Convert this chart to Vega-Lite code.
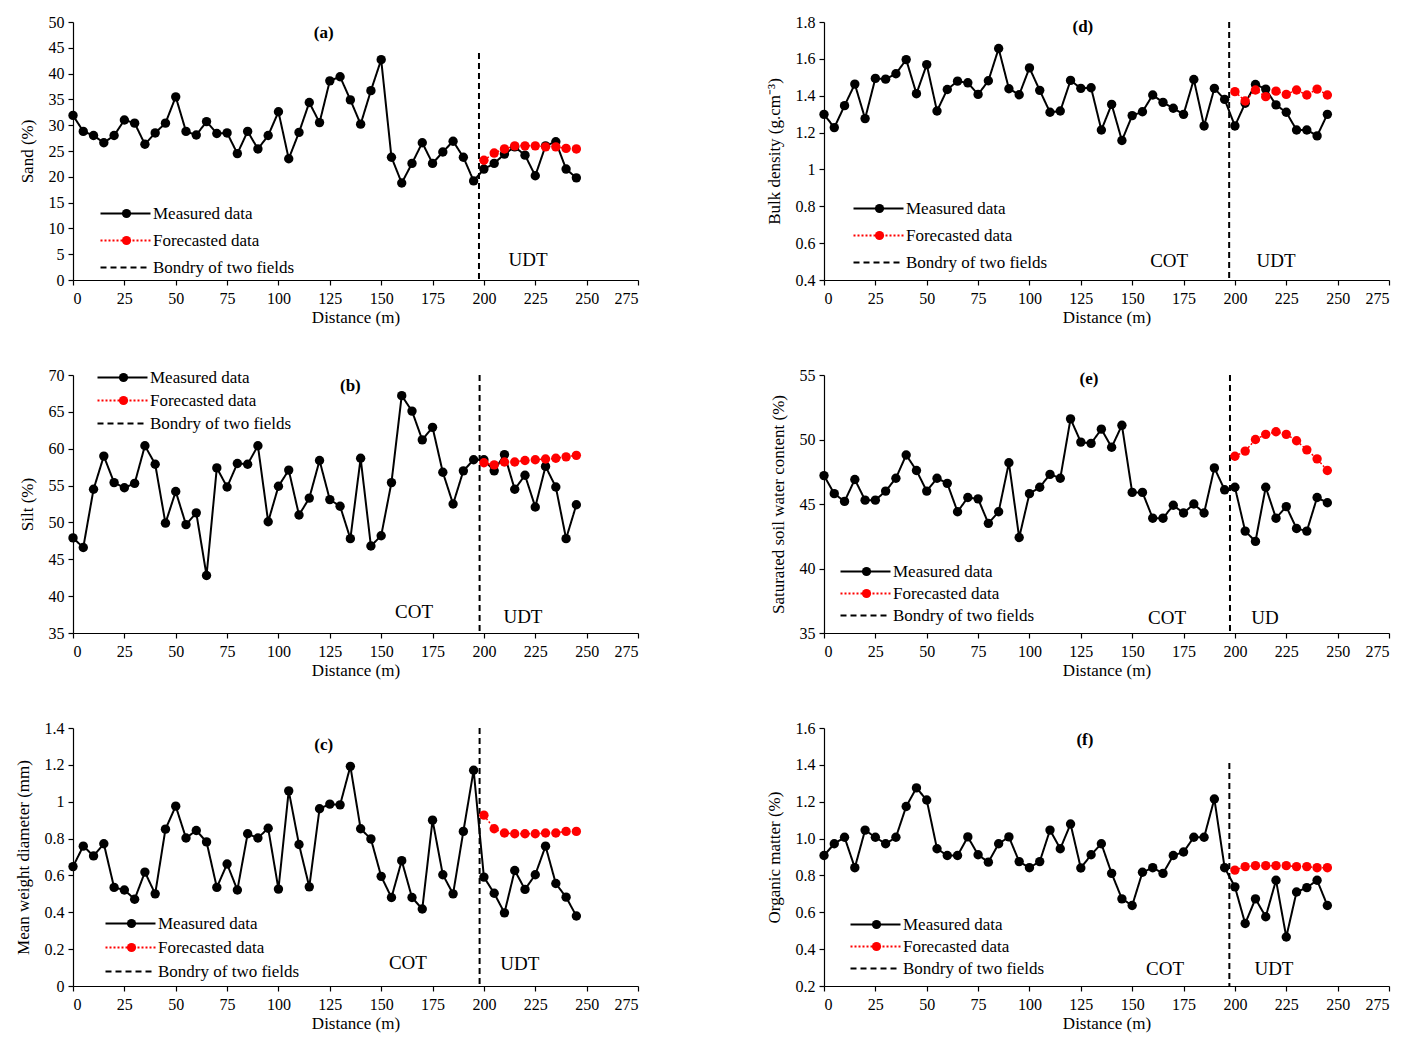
{
"$schema": "https://vega.github.io/schema/vega-lite/v6.json",
"padding": {"left": 14, "top": 14, "right": 5, "bottom": 2},
"config": {
  "font": "Liberation Serif",
  "view": {"stroke": null},
  "axis": {"grid": false, "domainColor": "#000", "tickColor": "#000", "labelColor": "#000", "titleColor": "#000", "labelFont": "Liberation Serif", "titleFont": "Liberation Serif", "labelFontSize": 16, "titleFontSize": 17, "titleFontWeight": "normal", "domainWidth": 1.2, "tickWidth": 1.2, "tickSize": 5, "labelPadding": 4, "labelOverlap": false},
  "axisX": {"titlePadding": 3, "labelPadding": 5},
  "axisY": {"titlePadding": 12},
  "legend": {"orient": "none", "title": null, "symbolType": "M-1,0H9", "symbolSize": 100, "symbolStrokeWidth": 2, "labelFont": "Liberation Serif", "labelFontSize": 17, "labelColor": "#000", "rowPadding": 6, "labelOffset": 39, "padding": 0},
  "text": {"font": "Liberation Serif", "fontSize": 19, "color": "#000"}
},
"datasets": {
  "soil": [
    {"series": "Measured data", "dist": 0, "sand": 31.9, "silt": 47.9, "mwd": 0.648, "bd": 1.299, "sswc": 47.2, "om": 0.908},
    {"series": "Measured data", "dist": 5, "sand": 28.8, "silt": 46.6, "mwd": 0.759, "bd": 1.227, "sswc": 45.8, "om": 0.972},
    {"series": "Measured data", "dist": 10, "sand": 28.0, "silt": 54.5, "mwd": 0.706, "bd": 1.346, "sswc": 45.2, "om": 1.007},
    {"series": "Measured data", "dist": 15, "sand": 26.6, "silt": 59.0, "mwd": 0.772, "bd": 1.463, "sswc": 46.9, "om": 0.842},
    {"series": "Measured data", "dist": 20, "sand": 28.0, "silt": 55.4, "mwd": 0.535, "bd": 1.276, "sswc": 45.3, "om": 1.046},
    {"series": "Measured data", "dist": 25, "sand": 31.0, "silt": 54.7, "mwd": 0.521, "bd": 1.494, "sswc": 45.3, "om": 1.007},
    {"series": "Measured data", "dist": 30, "sand": 30.4, "silt": 55.3, "mwd": 0.471, "bd": 1.490, "sswc": 46.0, "om": 0.972},
    {"series": "Measured data", "dist": 35, "sand": 26.3, "silt": 60.4, "mwd": 0.618, "bd": 1.519, "sswc": 47.0, "om": 1.007},
    {"series": "Measured data", "dist": 40, "sand": 28.5, "silt": 57.9, "mwd": 0.500, "bd": 1.596, "sswc": 48.8, "om": 1.174},
    {"series": "Measured data", "dist": 45, "sand": 30.4, "silt": 49.9, "mwd": 0.851, "bd": 1.411, "sswc": 47.6, "om": 1.275},
    {"series": "Measured data", "dist": 50, "sand": 35.5, "silt": 54.2, "mwd": 0.976, "bd": 1.569, "sswc": 46.0, "om": 1.209},
    {"series": "Measured data", "dist": 55, "sand": 28.8, "silt": 49.7, "mwd": 0.803, "bd": 1.317, "sswc": 47.0, "om": 0.945},
    {"series": "Measured data", "dist": 60, "sand": 28.1, "silt": 51.3, "mwd": 0.844, "bd": 1.434, "sswc": 46.6, "om": 0.908},
    {"series": "Measured data", "dist": 65, "sand": 30.7, "silt": 42.8, "mwd": 0.782, "bd": 1.479, "sswc": 44.4, "om": 0.908},
    {"series": "Measured data", "dist": 70, "sand": 28.4, "silt": 57.4, "mwd": 0.535, "bd": 1.470, "sswc": 45.5, "om": 1.009},
    {"series": "Measured data", "dist": 75, "sand": 28.5, "silt": 54.8, "mwd": 0.662, "bd": 1.407, "sswc": 45.4, "om": 0.912},
    {"series": "Measured data", "dist": 80, "sand": 24.5, "silt": 58.0, "mwd": 0.521, "bd": 1.481, "sswc": 43.5, "om": 0.872},
    {"series": "Measured data", "dist": 85, "sand": 28.8, "silt": 57.9, "mwd": 0.826, "bd": 1.656, "sswc": 44.4, "om": 0.972},
    {"series": "Measured data", "dist": 90, "sand": 25.4, "silt": 60.4, "mwd": 0.803, "bd": 1.438, "sswc": 48.2, "om": 1.009},
    {"series": "Measured data", "dist": 95, "sand": 28.0, "silt": 50.1, "mwd": 0.856, "bd": 1.405, "sswc": 42.4, "om": 0.875},
    {"series": "Measured data", "dist": 100, "sand": 32.6, "silt": 54.9, "mwd": 0.526, "bd": 1.551, "sswc": 45.8, "om": 0.842},
    {"series": "Measured data", "dist": 105, "sand": 23.5, "silt": 57.1, "mwd": 1.059, "bd": 1.429, "sswc": 46.3, "om": 0.875},
    {"series": "Measured data", "dist": 110, "sand": 28.6, "silt": 51.0, "mwd": 0.768, "bd": 1.310, "sswc": 47.3, "om": 1.046},
    {"series": "Measured data", "dist": 115, "sand": 34.4, "silt": 53.3, "mwd": 0.538, "bd": 1.317, "sswc": 47.0, "om": 0.945},
    {"series": "Measured data", "dist": 120, "sand": 30.5, "silt": 58.4, "mwd": 0.962, "bd": 1.483, "sswc": 51.6, "om": 1.079},
    {"series": "Measured data", "dist": 125, "sand": 38.6, "silt": 53.1, "mwd": 0.987, "bd": 1.440, "sswc": 49.8, "om": 0.840},
    {"series": "Measured data", "dist": 130, "sand": 39.4, "silt": 52.2, "mwd": 0.983, "bd": 1.443, "sswc": 49.7, "om": 0.912},
    {"series": "Measured data", "dist": 135, "sand": 34.9, "silt": 47.8, "mwd": 1.192, "bd": 1.214, "sswc": 50.8, "om": 0.972},
    {"series": "Measured data", "dist": 140, "sand": 30.2, "silt": 58.7, "mwd": 0.853, "bd": 1.353, "sswc": 49.4, "om": 0.811},
    {"series": "Measured data", "dist": 145, "sand": 36.7, "silt": 46.8, "mwd": 0.798, "bd": 1.157, "sswc": 51.1, "om": 0.673},
    {"series": "Measured data", "dist": 150, "sand": 42.7, "silt": 48.2, "mwd": 0.595, "bd": 1.292, "sswc": 45.9, "om": 0.637},
    {"series": "Measured data", "dist": 155, "sand": 23.8, "silt": 55.4, "mwd": 0.480, "bd": 1.313, "sswc": 45.9, "om": 0.817},
    {"series": "Measured data", "dist": 160, "sand": 18.8, "silt": 67.2, "mwd": 0.680, "bd": 1.404, "sswc": 43.9, "om": 0.842},
    {"series": "Measured data", "dist": 165, "sand": 22.6, "silt": 65.1, "mwd": 0.480, "bd": 1.364, "sswc": 43.9, "om": 0.811},
    {"series": "Measured data", "dist": 170, "sand": 26.6, "silt": 61.2, "mwd": 0.418, "bd": 1.332, "sswc": 44.9, "om": 0.908},
    {"series": "Measured data", "dist": 175, "sand": 22.6, "silt": 62.9, "mwd": 0.900, "bd": 1.299, "sswc": 44.3, "om": 0.927},
    {"series": "Measured data", "dist": 180, "sand": 24.8, "silt": 56.8, "mwd": 0.604, "bd": 1.488, "sswc": 45.0, "om": 1.007},
    {"series": "Measured data", "dist": 185, "sand": 26.9, "silt": 52.5, "mwd": 0.500, "bd": 1.236, "sswc": 44.3, "om": 1.007},
    {"series": "Measured data", "dist": 190, "sand": 23.8, "silt": 57.0, "mwd": 0.839, "bd": 1.440, "sswc": 47.8, "om": 1.215},
    {"series": "Measured data", "dist": 195, "sand": 19.2, "silt": 58.5, "mwd": 1.171, "bd": 1.380, "sswc": 46.1, "om": 0.842},
    {"series": "Measured data", "dist": 200, "sand": 21.5, "silt": 58.5, "mwd": 0.591, "bd": 1.236, "sswc": 46.3, "om": 0.738},
    {"series": "Measured data", "dist": 205, "sand": 22.6, "silt": 57.0, "mwd": 0.503, "bd": 1.359, "sswc": 42.9, "om": 0.539},
    {"series": "Measured data", "dist": 210, "sand": 24.4, "silt": 59.2, "mwd": 0.397, "bd": 1.461, "sswc": 42.1, "om": 0.673},
    {"series": "Measured data", "dist": 215, "sand": 25.8, "silt": 54.5, "mwd": 0.627, "bd": 1.436, "sswc": 46.3, "om": 0.576},
    {"series": "Measured data", "dist": 220, "sand": 24.2, "silt": 56.4, "mwd": 0.524, "bd": 1.350, "sswc": 43.9, "om": 0.774},
    {"series": "Measured data", "dist": 225, "sand": 20.2, "silt": 52.1, "mwd": 0.604, "bd": 1.310, "sswc": 44.8, "om": 0.466},
    {"series": "Measured data", "dist": 230, "sand": 26.0, "silt": 57.6, "mwd": 0.759, "bd": 1.214, "sswc": 43.1, "om": 0.710},
    {"series": "Measured data", "dist": 235, "sand": 26.8, "silt": 54.8, "mwd": 0.556, "bd": 1.214, "sswc": 42.9, "om": 0.734},
    {"series": "Measured data", "dist": 240, "sand": 21.5, "silt": 47.8, "mwd": 0.482, "bd": 1.182, "sswc": 45.5, "om": 0.774},
    {"series": "Measured data", "dist": 245, "sand": 19.8, "silt": 52.4, "mwd": 0.380, "bd": 1.299, "sswc": 45.1, "om": 0.637},
    {"series": "Forecasted data", "dist": 200, "sand": 23.2, "silt": 58.1, "mwd": 0.927, "bd": 1.422, "sswc": 48.7, "om": 0.829},
    {"series": "Forecasted data", "dist": 205, "sand": 24.6, "silt": 57.8, "mwd": 0.853, "bd": 1.371, "sswc": 49.1, "om": 0.848},
    {"series": "Forecasted data", "dist": 210, "sand": 25.4, "silt": 58.2, "mwd": 0.830, "bd": 1.431, "sswc": 50.0, "om": 0.853},
    {"series": "Forecasted data", "dist": 215, "sand": 26.0, "silt": 58.2, "mwd": 0.826, "bd": 1.395, "sswc": 50.4, "om": 0.853},
    {"series": "Forecasted data", "dist": 220, "sand": 26.0, "silt": 58.4, "mwd": 0.826, "bd": 1.425, "sswc": 50.6, "om": 0.853},
    {"series": "Forecasted data", "dist": 225, "sand": 26.0, "silt": 58.5, "mwd": 0.826, "bd": 1.407, "sswc": 50.4, "om": 0.853},
    {"series": "Forecasted data", "dist": 230, "sand": 25.8, "silt": 58.6, "mwd": 0.830, "bd": 1.431, "sswc": 49.9, "om": 0.848},
    {"series": "Forecasted data", "dist": 235, "sand": 25.8, "silt": 58.7, "mwd": 0.830, "bd": 1.404, "sswc": 49.2, "om": 0.848},
    {"series": "Forecasted data", "dist": 240, "sand": 25.5, "silt": 58.9, "mwd": 0.839, "bd": 1.436, "sswc": 48.5, "om": 0.842},
    {"series": "Forecasted data", "dist": 245, "sand": 25.4, "silt": 59.1, "mwd": 0.839, "bd": 1.404, "sswc": 47.6, "om": 0.842}
  ],
  "bounds": [
    {"series": "Bondry of two fields", "panel": "sand", "dist": 197.6, "top": 44, "bottom": 0},
    {"series": "Bondry of two fields", "panel": "silt", "dist": 197.9, "top": 70, "bottom": 35},
    {"series": "Bondry of two fields", "panel": "mwd", "dist": 197.9, "top": 1.4, "bottom": 0},
    {"series": "Bondry of two fields", "panel": "bd", "dist": 197.2, "top": 1.8, "bottom": 0.4},
    {"series": "Bondry of two fields", "panel": "sswc", "dist": 197.6, "top": 55, "bottom": 35},
    {"series": "Bondry of two fields", "panel": "om", "dist": 197.3, "top": 1.41, "bottom": 0.2}
  ],
  "notes": [
    {"panel": "sand", "kind": "letter", "label": "(a)", "dist": 122, "val": 47.8},
    {"panel": "sand", "kind": "field", "label": "UDT", "dist": 221.5, "val": 3.9},
    {"panel": "silt", "kind": "letter", "label": "(b)", "dist": 135, "val": 68.5},
    {"panel": "silt", "kind": "field", "label": "COT", "dist": 166, "val": 37.8},
    {"panel": "silt", "kind": "field", "label": "UDT", "dist": 219, "val": 37.2},
    {"panel": "mwd", "kind": "letter", "label": "(c)", "dist": 122, "val": 1.31},
    {"panel": "mwd", "kind": "field", "label": "COT", "dist": 163, "val": 0.127},
    {"panel": "mwd", "kind": "field", "label": "UDT", "dist": 217.5, "val": 0.122},
    {"panel": "bd", "kind": "letter", "label": "(d)", "dist": 126, "val": 1.773},
    {"panel": "bd", "kind": "field", "label": "COT", "dist": 168, "val": 0.503},
    {"panel": "bd", "kind": "field", "label": "UDT", "dist": 220, "val": 0.503},
    {"panel": "sswc", "kind": "letter", "label": "(e)", "dist": 129, "val": 54.7},
    {"panel": "sswc", "kind": "field", "label": "COT", "dist": 167, "val": 36.2},
    {"panel": "sswc", "kind": "field", "label": "UD", "dist": 214.6, "val": 36.2},
    {"panel": "om", "kind": "letter", "label": "(f)", "dist": 127, "val": 1.534},
    {"panel": "om", "kind": "field", "label": "COT", "dist": 166, "val": 0.293},
    {"panel": "om", "kind": "field", "label": "UDT", "dist": 219, "val": 0.293}
  ]
},
"columns": 2,
"spacing": {"row": 42, "column": 126},
"resolve": {"scale": {"x": "independent", "y": "independent", "color": "independent", "strokeDash": "independent", "fill": "independent"}, "legend": {"color": "independent", "strokeDash": "independent", "fill": "independent"}},
"concat": [
  {
    "width": 565, "height": 258,
    "encoding": {"x": {"field": "dist", "type": "quantitative", "scale": {"domain": [0, 275], "nice": false}, "axis": {"values": [0,25,50,75,100,125,150,175,200,225,250,275], "title": "Distance (m)"}}},
    "layer": [
      {"data": {"name": "soil"}, "transform": [{"filter": "datum.series == 'Measured data'"}],
       "mark": {"type": "line", "strokeWidth": 2},
       "encoding": {
         "y": {"field": "sand", "type": "quantitative", "scale": {"domain": [0, 50], "nice": false}, "axis": {"values": [0,5,10,15,20,25,30,35,40,45,50], "title": "Sand (%)"}},
         "color": {"field": "series", "type": "nominal", "scale": {"domain": ["Measured data", "Forecasted data", "Bondry of two fields"], "range": ["#000000", "#ff0000", "#000000"]}, "legend": {"legendX": 24, "legendY": 183, "rowPadding": 9}},
         "strokeDash": {"field": "series", "type": "nominal", "scale": {"domain": ["Measured data", "Forecasted data", "Bondry of two fields"], "range": [[1, 0], [2, 2], [6, 4]]}, "legend": {"legendX": 24, "legendY": 183, "rowPadding": 9}}}},
      {"data": {"name": "soil"}, "transform": [{"filter": "datum.series == 'Forecasted data'"}],
       "mark": {"type": "line", "strokeWidth": 1.5},
       "encoding": {"y": {"field": "sand", "type": "quantitative", "axis": {"values": [0,5,10,15,20,25,30,35,40,45,50], "title": "Sand (%)"}}, "color": {"field": "series", "type": "nominal"}, "strokeDash": {"field": "series", "type": "nominal"}}},
      {"data": {"name": "bounds"}, "transform": [{"filter": "datum.panel == 'sand'"}],
       "mark": {"type": "rule", "strokeWidth": 2},
       "encoding": {"y": {"field": "top", "type": "quantitative", "axis": {"values": [0,5,10,15,20,25,30,35,40,45,50], "title": "Sand (%)"}}, "y2": {"field": "bottom"}, "color": {"field": "series", "type": "nominal"}, "strokeDash": {"field": "series", "type": "nominal"}}},
      {"data": {"name": "soil"},
       "mark": {"type": "circle", "size": 88, "opacity": 1},
       "encoding": {"y": {"field": "sand", "type": "quantitative", "axis": {"values": [0,5,10,15,20,25,30,35,40,45,50], "title": "Sand (%)"}},
         "fill": {"field": "series", "type": "nominal", "scale": {"domain": ["Measured data", "Forecasted data", "Bondry of two fields", " "], "range": ["#000000", "#ff0000", "transparent", "transparent"]}, "legend": {"legendX": 45, "legendY": 183, "rowPadding": 9, "symbolType": "circle", "symbolSize": 85, "symbolStrokeWidth": 0, "labelExpr": "' '", "labelOffset": 0}}}},
      {"data": {"name": "notes"}, "transform": [{"filter": "datum.panel == 'sand' && datum.kind == 'letter'"}],
       "mark": {"type": "text", "fontWeight": "bold", "fontSize": 17},
       "encoding": {"y": {"field": "val", "type": "quantitative", "axis": {"values": [0,5,10,15,20,25,30,35,40,45,50], "title": "Sand (%)"}}, "text": {"field": "label"}}},
      {"data": {"name": "notes"}, "transform": [{"filter": "datum.panel == 'sand' && datum.kind == 'field'"}],
       "mark": {"type": "text"},
       "encoding": {"y": {"field": "val", "type": "quantitative", "axis": {"values": [0,5,10,15,20,25,30,35,40,45,50], "title": "Sand (%)"}}, "text": {"field": "label"}}}
    ]
  },
  {
    "width": 565, "height": 258,
    "encoding": {"x": {"field": "dist", "type": "quantitative", "scale": {"domain": [0, 275], "nice": false}, "axis": {"values": [0,25,50,75,100,125,150,175,200,225,250,275], "title": "Distance (m)"}}},
    "layer": [
      {"data": {"name": "soil"}, "transform": [{"filter": "datum.series == 'Measured data'"}],
       "mark": {"type": "line", "strokeWidth": 2},
       "encoding": {
         "y": {"field": "bd", "type": "quantitative", "scale": {"domain": [0.4, 1.8], "nice": false, "zero": false}, "axis": {"values": [0.4,0.6,0.8,1,1.2,1.4,1.6,1.8], "format": ".1~f", "title": "Bulk density (g.cm⁻³)"}},
         "color": {"field": "series", "type": "nominal", "scale": {"domain": ["Measured data", "Forecasted data", "Bondry of two fields"], "range": ["#000000", "#ff0000", "#000000"]}, "legend": {"legendX": 26, "legendY": 178, "rowPadding": 9}},
         "strokeDash": {"field": "series", "type": "nominal", "scale": {"domain": ["Measured data", "Forecasted data", "Bondry of two fields"], "range": [[1, 0], [2, 2], [6, 4]]}, "legend": {"legendX": 26, "legendY": 178, "rowPadding": 9}}}},
      {"data": {"name": "soil"}, "transform": [{"filter": "datum.series == 'Forecasted data'"}],
       "mark": {"type": "line", "strokeWidth": 1.5},
       "encoding": {"y": {"field": "bd", "type": "quantitative", "axis": {"values": [0.4,0.6,0.8,1,1.2,1.4,1.6,1.8], "format": ".1~f", "title": "Bulk density (g.cm⁻³)"}}, "color": {"field": "series", "type": "nominal"}, "strokeDash": {"field": "series", "type": "nominal"}}},
      {"data": {"name": "bounds"}, "transform": [{"filter": "datum.panel == 'bd'"}],
       "mark": {"type": "rule", "strokeWidth": 2},
       "encoding": {"y": {"field": "top", "type": "quantitative", "axis": {"values": [0.4,0.6,0.8,1,1.2,1.4,1.6,1.8], "format": ".1~f", "title": "Bulk density (g.cm⁻³)"}}, "y2": {"field": "bottom"}, "color": {"field": "series", "type": "nominal"}, "strokeDash": {"field": "series", "type": "nominal"}}},
      {"data": {"name": "soil"},
       "mark": {"type": "circle", "size": 88, "opacity": 1},
       "encoding": {"y": {"field": "bd", "type": "quantitative", "axis": {"values": [0.4,0.6,0.8,1,1.2,1.4,1.6,1.8], "format": ".1~f", "title": "Bulk density (g.cm⁻³)"}},
         "fill": {"field": "series", "type": "nominal", "scale": {"domain": ["Measured data", "Forecasted data", "Bondry of two fields", " "], "range": ["#000000", "#ff0000", "transparent", "transparent"]}, "legend": {"legendX": 47, "legendY": 178, "rowPadding": 9, "symbolType": "circle", "symbolSize": 85, "symbolStrokeWidth": 0, "labelExpr": "' '", "labelOffset": 0}}}},
      {"data": {"name": "notes"}, "transform": [{"filter": "datum.panel == 'bd' && datum.kind == 'letter'"}],
       "mark": {"type": "text", "fontWeight": "bold", "fontSize": 17},
       "encoding": {"y": {"field": "val", "type": "quantitative", "axis": {"values": [0.4,0.6,0.8,1,1.2,1.4,1.6,1.8], "format": ".1~f", "title": "Bulk density (g.cm⁻³)"}}, "text": {"field": "label"}}},
      {"data": {"name": "notes"}, "transform": [{"filter": "datum.panel == 'bd' && datum.kind == 'field'"}],
       "mark": {"type": "text"},
       "encoding": {"y": {"field": "val", "type": "quantitative", "axis": {"values": [0.4,0.6,0.8,1,1.2,1.4,1.6,1.8], "format": ".1~f", "title": "Bulk density (g.cm⁻³)"}}, "text": {"field": "label"}}}
    ]
  },
  {
    "width": 565, "height": 258,
    "encoding": {"x": {"field": "dist", "type": "quantitative", "scale": {"domain": [0, 275], "nice": false}, "axis": {"values": [0,25,50,75,100,125,150,175,200,225,250,275], "title": "Distance (m)"}}},
    "layer": [
      {"data": {"name": "soil"}, "transform": [{"filter": "datum.series == 'Measured data'"}],
       "mark": {"type": "line", "strokeWidth": 2},
       "encoding": {
         "y": {"field": "silt", "type": "quantitative", "scale": {"domain": [35, 70], "nice": false, "zero": false}, "axis": {"values": [35,40,45,50,55,60,65,70], "title": "Silt (%)"}},
         "color": {"field": "series", "type": "nominal", "scale": {"domain": ["Measured data", "Forecasted data", "Bondry of two fields"], "range": ["#000000", "#ff0000", "#000000"]}, "legend": {"legendX": 21, "legendY": -6, "rowPadding": 5}},
         "strokeDash": {"field": "series", "type": "nominal", "scale": {"domain": ["Measured data", "Forecasted data", "Bondry of two fields"], "range": [[1, 0], [2, 2], [6, 4]]}, "legend": {"legendX": 21, "legendY": -6, "rowPadding": 5}}}},
      {"data": {"name": "soil"}, "transform": [{"filter": "datum.series == 'Forecasted data'"}],
       "mark": {"type": "line", "strokeWidth": 1.5},
       "encoding": {"y": {"field": "silt", "type": "quantitative", "axis": {"values": [35,40,45,50,55,60,65,70], "title": "Silt (%)"}}, "color": {"field": "series", "type": "nominal"}, "strokeDash": {"field": "series", "type": "nominal"}}},
      {"data": {"name": "bounds"}, "transform": [{"filter": "datum.panel == 'silt'"}],
       "mark": {"type": "rule", "strokeWidth": 2},
       "encoding": {"y": {"field": "top", "type": "quantitative", "axis": {"values": [35,40,45,50,55,60,65,70], "title": "Silt (%)"}}, "y2": {"field": "bottom"}, "color": {"field": "series", "type": "nominal"}, "strokeDash": {"field": "series", "type": "nominal"}}},
      {"data": {"name": "soil"},
       "mark": {"type": "circle", "size": 88, "opacity": 1},
       "encoding": {"y": {"field": "silt", "type": "quantitative", "axis": {"values": [35,40,45,50,55,60,65,70], "title": "Silt (%)"}},
         "fill": {"field": "series", "type": "nominal", "scale": {"domain": ["Measured data", "Forecasted data", "Bondry of two fields", " "], "range": ["#000000", "#ff0000", "transparent", "transparent"]}, "legend": {"legendX": 42, "legendY": -6, "rowPadding": 5, "symbolType": "circle", "symbolSize": 85, "symbolStrokeWidth": 0, "labelExpr": "' '", "labelOffset": 0}}}},
      {"data": {"name": "notes"}, "transform": [{"filter": "datum.panel == 'silt' && datum.kind == 'letter'"}],
       "mark": {"type": "text", "fontWeight": "bold", "fontSize": 17},
       "encoding": {"y": {"field": "val", "type": "quantitative", "axis": {"values": [35,40,45,50,55,60,65,70], "title": "Silt (%)"}}, "text": {"field": "label"}}},
      {"data": {"name": "notes"}, "transform": [{"filter": "datum.panel == 'silt' && datum.kind == 'field'"}],
       "mark": {"type": "text"},
       "encoding": {"y": {"field": "val", "type": "quantitative", "axis": {"values": [35,40,45,50,55,60,65,70], "title": "Silt (%)"}}, "text": {"field": "label"}}}
    ]
  },
  {
    "width": 565, "height": 258,
    "encoding": {"x": {"field": "dist", "type": "quantitative", "scale": {"domain": [0, 275], "nice": false}, "axis": {"values": [0,25,50,75,100,125,150,175,200,225,250,275], "title": "Distance (m)"}}},
    "layer": [
      {"data": {"name": "soil"}, "transform": [{"filter": "datum.series == 'Measured data'"}],
       "mark": {"type": "line", "strokeWidth": 2},
       "encoding": {
         "y": {"field": "sswc", "type": "quantitative", "scale": {"domain": [35, 55], "nice": false, "zero": false}, "axis": {"values": [35,40,45,50,55], "title": "Saturated soil water content (%)"}},
         "color": {"field": "series", "type": "nominal", "scale": {"domain": ["Measured data", "Forecasted data", "Bondry of two fields"], "range": ["#000000", "#ff0000", "#000000"]}, "legend": {"legendX": 13, "legendY": 188, "rowPadding": 4}},
         "strokeDash": {"field": "series", "type": "nominal", "scale": {"domain": ["Measured data", "Forecasted data", "Bondry of two fields"], "range": [[1, 0], [2, 2], [6, 4]]}, "legend": {"legendX": 13, "legendY": 188, "rowPadding": 4}}}},
      {"data": {"name": "soil"}, "transform": [{"filter": "datum.series == 'Forecasted data'"}],
       "mark": {"type": "line", "strokeWidth": 1.5},
       "encoding": {"y": {"field": "sswc", "type": "quantitative", "axis": {"values": [35,40,45,50,55], "title": "Saturated soil water content (%)"}}, "color": {"field": "series", "type": "nominal"}, "strokeDash": {"field": "series", "type": "nominal"}}},
      {"data": {"name": "bounds"}, "transform": [{"filter": "datum.panel == 'sswc'"}],
       "mark": {"type": "rule", "strokeWidth": 2},
       "encoding": {"y": {"field": "top", "type": "quantitative", "axis": {"values": [35,40,45,50,55], "title": "Saturated soil water content (%)"}}, "y2": {"field": "bottom"}, "color": {"field": "series", "type": "nominal"}, "strokeDash": {"field": "series", "type": "nominal"}}},
      {"data": {"name": "soil"},
       "mark": {"type": "circle", "size": 88, "opacity": 1},
       "encoding": {"y": {"field": "sswc", "type": "quantitative", "axis": {"values": [35,40,45,50,55], "title": "Saturated soil water content (%)"}},
         "fill": {"field": "series", "type": "nominal", "scale": {"domain": ["Measured data", "Forecasted data", "Bondry of two fields", " "], "range": ["#000000", "#ff0000", "transparent", "transparent"]}, "legend": {"legendX": 34, "legendY": 188, "rowPadding": 4, "symbolType": "circle", "symbolSize": 85, "symbolStrokeWidth": 0, "labelExpr": "' '", "labelOffset": 0}}}},
      {"data": {"name": "notes"}, "transform": [{"filter": "datum.panel == 'sswc' && datum.kind == 'letter'"}],
       "mark": {"type": "text", "fontWeight": "bold", "fontSize": 17},
       "encoding": {"y": {"field": "val", "type": "quantitative", "axis": {"values": [35,40,45,50,55], "title": "Saturated soil water content (%)"}}, "text": {"field": "label"}}},
      {"data": {"name": "notes"}, "transform": [{"filter": "datum.panel == 'sswc' && datum.kind == 'field'"}],
       "mark": {"type": "text"},
       "encoding": {"y": {"field": "val", "type": "quantitative", "axis": {"values": [35,40,45,50,55], "title": "Saturated soil water content (%)"}}, "text": {"field": "label"}}}
    ]
  },
  {
    "width": 565, "height": 258,
    "encoding": {"x": {"field": "dist", "type": "quantitative", "scale": {"domain": [0, 275], "nice": false}, "axis": {"values": [0,25,50,75,100,125,150,175,200,225,250,275], "title": "Distance (m)"}}},
    "layer": [
      {"data": {"name": "soil"}, "transform": [{"filter": "datum.series == 'Measured data'"}],
       "mark": {"type": "line", "strokeWidth": 2},
       "encoding": {
         "y": {"field": "mwd", "type": "quantitative", "scale": {"domain": [0, 1.4], "nice": false}, "axis": {"values": [0,0.2,0.4,0.6,0.8,1,1.2,1.4], "format": ".1~f", "title": "Mean weight diameter (mm)"}},
         "color": {"field": "series", "type": "nominal", "scale": {"domain": ["Measured data", "Forecasted data", "Bondry of two fields"], "range": ["#000000", "#ff0000", "#000000"]}, "legend": {"legendX": 29, "legendY": 187, "rowPadding": 6}},
         "strokeDash": {"field": "series", "type": "nominal", "scale": {"domain": ["Measured data", "Forecasted data", "Bondry of two fields"], "range": [[1, 0], [2, 2], [6, 4]]}, "legend": {"legendX": 29, "legendY": 187, "rowPadding": 6}}}},
      {"data": {"name": "soil"}, "transform": [{"filter": "datum.series == 'Forecasted data'"}],
       "mark": {"type": "line", "strokeWidth": 1.5},
       "encoding": {"y": {"field": "mwd", "type": "quantitative", "axis": {"values": [0,0.2,0.4,0.6,0.8,1,1.2,1.4], "format": ".1~f", "title": "Mean weight diameter (mm)"}}, "color": {"field": "series", "type": "nominal"}, "strokeDash": {"field": "series", "type": "nominal"}}},
      {"data": {"name": "bounds"}, "transform": [{"filter": "datum.panel == 'mwd'"}],
       "mark": {"type": "rule", "strokeWidth": 2},
       "encoding": {"y": {"field": "top", "type": "quantitative", "axis": {"values": [0,0.2,0.4,0.6,0.8,1,1.2,1.4], "format": ".1~f", "title": "Mean weight diameter (mm)"}}, "y2": {"field": "bottom"}, "color": {"field": "series", "type": "nominal"}, "strokeDash": {"field": "series", "type": "nominal"}}},
      {"data": {"name": "soil"},
       "mark": {"type": "circle", "size": 88, "opacity": 1},
       "encoding": {"y": {"field": "mwd", "type": "quantitative", "axis": {"values": [0,0.2,0.4,0.6,0.8,1,1.2,1.4], "format": ".1~f", "title": "Mean weight diameter (mm)"}},
         "fill": {"field": "series", "type": "nominal", "scale": {"domain": ["Measured data", "Forecasted data", "Bondry of two fields", " "], "range": ["#000000", "#ff0000", "transparent", "transparent"]}, "legend": {"legendX": 50, "legendY": 187, "rowPadding": 6, "symbolType": "circle", "symbolSize": 85, "symbolStrokeWidth": 0, "labelExpr": "' '", "labelOffset": 0}}}},
      {"data": {"name": "notes"}, "transform": [{"filter": "datum.panel == 'mwd' && datum.kind == 'letter'"}],
       "mark": {"type": "text", "fontWeight": "bold", "fontSize": 17},
       "encoding": {"y": {"field": "val", "type": "quantitative", "axis": {"values": [0,0.2,0.4,0.6,0.8,1,1.2,1.4], "format": ".1~f", "title": "Mean weight diameter (mm)"}}, "text": {"field": "label"}}},
      {"data": {"name": "notes"}, "transform": [{"filter": "datum.panel == 'mwd' && datum.kind == 'field'"}],
       "mark": {"type": "text"},
       "encoding": {"y": {"field": "val", "type": "quantitative", "axis": {"values": [0,0.2,0.4,0.6,0.8,1,1.2,1.4], "format": ".1~f", "title": "Mean weight diameter (mm)"}}, "text": {"field": "label"}}}
    ]
  },
  {
    "width": 565, "height": 258,
    "encoding": {"x": {"field": "dist", "type": "quantitative", "scale": {"domain": [0, 275], "nice": false}, "axis": {"values": [0,25,50,75,100,125,150,175,200,225,250,275], "title": "Distance (m)"}}},
    "layer": [
      {"data": {"name": "soil"}, "transform": [{"filter": "datum.series == 'Measured data'"}],
       "mark": {"type": "line", "strokeWidth": 2},
       "encoding": {
         "y": {"field": "om", "type": "quantitative", "scale": {"domain": [0.2, 1.6], "nice": false, "zero": false}, "axis": {"values": [0.2,0.4,0.6,0.8,1,1.2,1.4,1.6], "format": ".1f", "title": "Organic matter (%)"}},
         "color": {"field": "series", "type": "nominal", "scale": {"domain": ["Measured data", "Forecasted data", "Bondry of two fields"], "range": ["#000000", "#ff0000", "#000000"]}, "legend": {"legendX": 23, "legendY": 188, "rowPadding": 4}},
         "strokeDash": {"field": "series", "type": "nominal", "scale": {"domain": ["Measured data", "Forecasted data", "Bondry of two fields"], "range": [[1, 0], [2, 2], [6, 4]]}, "legend": {"legendX": 23, "legendY": 188, "rowPadding": 4}}}},
      {"data": {"name": "soil"}, "transform": [{"filter": "datum.series == 'Forecasted data'"}],
       "mark": {"type": "line", "strokeWidth": 1.5},
       "encoding": {"y": {"field": "om", "type": "quantitative", "axis": {"values": [0.2,0.4,0.6,0.8,1,1.2,1.4,1.6], "format": ".1f", "title": "Organic matter (%)"}}, "color": {"field": "series", "type": "nominal"}, "strokeDash": {"field": "series", "type": "nominal"}}},
      {"data": {"name": "bounds"}, "transform": [{"filter": "datum.panel == 'om'"}],
       "mark": {"type": "rule", "strokeWidth": 2},
       "encoding": {"y": {"field": "top", "type": "quantitative", "axis": {"values": [0.2,0.4,0.6,0.8,1,1.2,1.4,1.6], "format": ".1f", "title": "Organic matter (%)"}}, "y2": {"field": "bottom"}, "color": {"field": "series", "type": "nominal"}, "strokeDash": {"field": "series", "type": "nominal"}}},
      {"data": {"name": "soil"},
       "mark": {"type": "circle", "size": 88, "opacity": 1},
       "encoding": {"y": {"field": "om", "type": "quantitative", "axis": {"values": [0.2,0.4,0.6,0.8,1,1.2,1.4,1.6], "format": ".1f", "title": "Organic matter (%)"}},
         "fill": {"field": "series", "type": "nominal", "scale": {"domain": ["Measured data", "Forecasted data", "Bondry of two fields", " "], "range": ["#000000", "#ff0000", "transparent", "transparent"]}, "legend": {"legendX": 44, "legendY": 188, "rowPadding": 4, "symbolType": "circle", "symbolSize": 85, "symbolStrokeWidth": 0, "labelExpr": "' '", "labelOffset": 0}}}},
      {"data": {"name": "notes"}, "transform": [{"filter": "datum.panel == 'om' && datum.kind == 'letter'"}],
       "mark": {"type": "text", "fontWeight": "bold", "fontSize": 17},
       "encoding": {"y": {"field": "val", "type": "quantitative", "axis": {"values": [0.2,0.4,0.6,0.8,1,1.2,1.4,1.6], "format": ".1f", "title": "Organic matter (%)"}}, "text": {"field": "label"}}},
      {"data": {"name": "notes"}, "transform": [{"filter": "datum.panel == 'om' && datum.kind == 'field'"}],
       "mark": {"type": "text"},
       "encoding": {"y": {"field": "val", "type": "quantitative", "axis": {"values": [0.2,0.4,0.6,0.8,1,1.2,1.4,1.6], "format": ".1f", "title": "Organic matter (%)"}}, "text": {"field": "label"}}}
    ]
  }
]
}
